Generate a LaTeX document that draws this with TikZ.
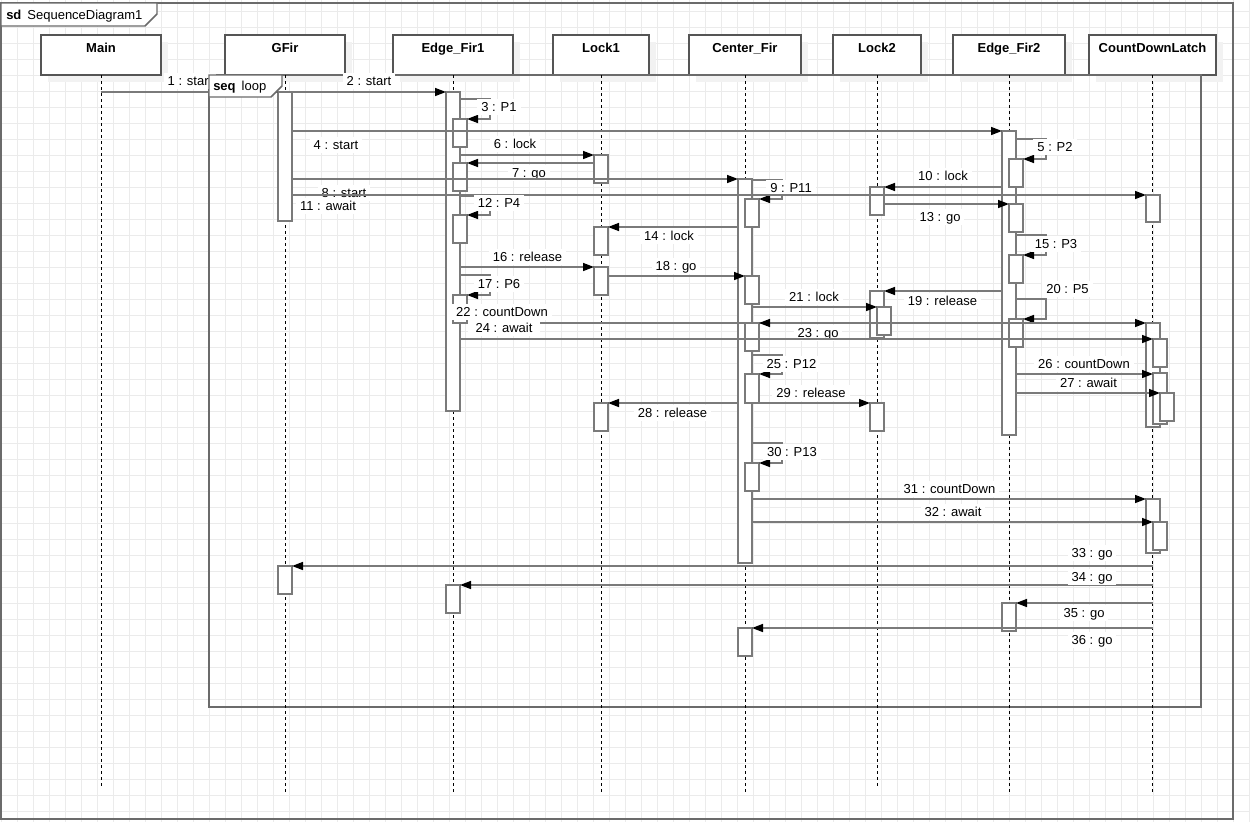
\documentclass[tikz,border=0pt]{standalone}
\usepackage{fontspec}
\setmainfont{Liberation Sans}
\usetikzlibrary{arrows.meta,shadows}
\definecolor{gridc}{HTML}{EBEBEB}
\definecolor{framec}{HTML}{6B6B6B}
\definecolor{headc}{HTML}{555555}
\definecolor{actc}{HTML}{7A7A7A}
\definecolor{msgc}{HTML}{7A7A7A}
% activation bar: name, centre x, top y, bottom y
\newcommand\actbox[4]{\node[act,minimum height={(#4-#3)*0.75pt}] (#1) at (#2,{(#3+#4)/2}) {};}
% lifeline head: name, left x, right x, title
\newcommand\headbox[4]{\node[head,minimum width={(#3-#2)*0.75pt},
  label={[headlab]north:#4}] (#1) at ({(#2+#3)/2},55) {};}
\begin{document}
\begin{tikzpicture}[x=0.75pt,y=-0.75pt,
  gridline/.style={draw=gridc,line width=0.75pt},
  framel/.style={draw=framec,line width=1.1pt},
  head/.style={rectangle,draw=headc,fill=white,line width=1.1pt,minimum height=30pt,
    inner sep=0pt,outer sep=0pt,
    general shadow={fill=black!5,shadow xshift=5.25pt,shadow yshift=-5.25pt}},
  headlab/.style={anchor=base,yshift=-12.75pt,inner sep=0pt,
    font=\fontsize{9.75pt}{11pt}\selectfont\bfseries},
  lifeline/.style={draw=black,line width=0.75pt,dash pattern=on 2.25pt off 2.25pt},
  act/.style={rectangle,draw=actc,fill=white,line width=1.1pt,minimum width=10.5pt,
    inner sep=0pt,outer sep=0pt},
  msg/.style={draw=msgc,line width=1.1pt,-{Triangle[length=8.25pt,width=6pt,black]}},
  lab/.style={fill=white,font=\fontsize{9.75pt}{11pt}\selectfont,text=black,
    inner xsep=3pt,inner ysep=1.5pt,text height=8pt,text depth=1pt},
  ftext/.style={anchor=base west,inner sep=0pt,font=\fontsize{9.75pt}{11pt}\selectfont}]
\useasboundingbox (0,0) rectangle (1250,822);
\fill[white] (0,0) rectangle (1250,822);
% background grid
\foreach \gx in {1,17,...,1249} \draw[gridline] (\gx,0) -- (\gx,822);
\foreach \gy in {11,27,...,811} \draw[gridline] (0,\gy) -- (1250,\gy);

% outer diagram frame
\draw[framel] (1,3) rectangle (1233,819);
\draw[framel,fill=white] (1,3) -- (157,3) -- (157,14) -- (145,26) -- (1,26) -- cycle;
\node[ftext] (sdtitle) at (6,19.2) {\textbf{sd}\hspace{4.5pt}SequenceDiagram1};

% lifeline heads
\headbox{h1}{41}{161}{Main}
\headbox{h2}{225}{345}{GFir}
\headbox{h3}{393}{513}{Edge\_Fir1}
\headbox{h4}{553}{649}{Lock1}
\headbox{h5}{689}{801}{Center\_Fir}
\headbox{h6}{833}{921}{Lock2}
\headbox{h7}{953}{1065}{Edge\_Fir2}
\headbox{h8}{1089}{1216}{CountDownLatch}

% combined fragment
\draw[framel] (209,75) rectangle (1201,707);

% lifelines
\draw[lifeline] (h1.south) -- (h1.south |- 0,787);
\draw[lifeline] (h2.south) -- (h2.south |- 0,793);
\draw[lifeline] (h3.south) -- (h3.south |- 0,793);
\draw[lifeline] (h4.south) -- (h4.south |- 0,793);
\draw[lifeline] (h5.south) -- (h5.south |- 0,793);
\draw[lifeline] (h6.south) -- (h6.south |- 0,787);
\draw[lifeline] (h7.south) -- (h7.south |- 0,793);
\draw[lifeline] (h8.south) -- (h8.south |- 0,793);

% activation bars
\actbox{g1}{285}{92}{221}
\actbox{g2}{285}{566}{594}
\actbox{e1}{453}{92}{411}
\actbox{e1b}{460}{119}{147}
\actbox{e1c}{460}{163}{191}
\actbox{e1d}{460}{215}{243}
\actbox{e1e}{460}{295}{323}
\actbox{e1f}{453}{585}{613}
\actbox{l1a}{601}{155}{183}
\actbox{l1b}{601}{227}{255}
\actbox{l1c}{601}{267}{295}
\actbox{l1d}{601}{403}{431}
\actbox{c1}{745}{179}{563}
\actbox{c1b}{752}{199}{227}
\actbox{c1c}{752}{276}{304}
\actbox{c1d}{752}{323}{351}
\actbox{c1e}{752}{374}{403}
\actbox{c1f}{752}{463}{491}
\actbox{c2}{745}{628}{656}
\actbox{l2a}{877}{187}{215}
\actbox{l2b}{877}{291}{338}
\actbox{l2c}{884}{307}{335}
\actbox{l2d}{877}{403}{431}
\actbox{f1}{1009}{131}{435}
\actbox{f1b}{1016}{159}{187}
\actbox{f1c}{1016}{204}{232}
\actbox{f1d}{1016}{255}{283}
\actbox{f1e}{1016}{319}{347}
\actbox{f2}{1009}{603}{631}
\actbox{d1}{1153}{195}{222}
\actbox{d2}{1153}{323}{427}
\actbox{d2b}{1160}{339}{367}
\actbox{d2c}{1160}{373}{424}
\actbox{d2d}{1167}{393}{421}
\actbox{d3}{1153}{499}{553}
\actbox{d3b}{1160}{522}{550}

% messages
\draw[msg] (h1 |- 0,92) -- (g1.west |- 0,92) node[lab] at (190,81) {1 : start};
\draw[msg] (g1.east |- 0,92) -- (e1.west |- 0,92) node[lab] at (369,81) {2 : start};
\draw[msg] (e1.east |- 0,99) -- ++(30,0) -- ++(0,20) -- (e1b.east |- 0,119) node[lab] at (499,107) {3 : P1};
\draw[msg] (g1.east |- 0,131) -- (f1.west |- 0,131) node[lab] at (336,145) {4 : start};
\draw[msg] (f1.east |- 0,139) -- ++(30,0) -- ++(0,20) -- (f1b.east |- 0,159) node[lab] at (1055,147) {5 : P2};
\draw[msg] (e1.east |- 0,155) -- (l1a.west |- 0,155) node[lab] at (515,143.5) {6 : lock};
\draw[msg] (l1a.west |- 0,163) -- (e1c.east |- 0,163) node[lab] at (529,172.5) {7 : go};
\draw[msg] (g1.east |- 0,179) -- (c1.west |- 0,179) node[lab] at (344,192.5) {8 : start};
\draw[msg] (c1.east |- 0,180) -- ++(30,0) -- ++(0,19) -- (c1b.east |- 0,199) node[lab] at (791,187.5) {9 : P11};
\draw[msg] (f1.west |- 0,187) -- (l2a.east |- 0,187) node[lab] at (943,175.5) {10 : lock};
\draw[msg] (g1.east |- 0,195) -- (d1.west |- 0,195) node[lab] at (328,205.5) {11 : await};
\draw[msg] (e1.east |- 0,196) -- ++(30,0) -- ++(0,19) -- (e1d.east |- 0,215) node[lab] at (499,203) {12 : P4};
\draw[msg] (l2a.east |- 0,204) -- (f1c.west |- 0,204) node[lab] at (940,216.5) {13 : go};
\draw[msg] (c1.west |- 0,227) -- (l1b.east |- 0,227) node[lab] at (669,235.5) {14 : lock};
\draw[msg] (f1.east |- 0,235) -- ++(30,0) -- ++(0,20) -- (f1d.east |- 0,255) node[lab] at (1056,243.5) {15 : P3};
\draw[msg] (e1.east |- 0,267) -- (l1c.west |- 0,267) node[lab] at (527.5,256.5) {16 : release};
\draw[msg] (e1.east |- 0,275) -- ++(30,0) -- ++(0,20) -- (e1e.east |- 0,295) node[lab] at (499,283.5) {17 : P6};
\draw[msg] (l1c.east |- 0,276) -- (c1c.west |- 0,276) node[lab] at (676,265.5) {18 : go};
\draw[msg] (f1.west |- 0,291) -- (l2b.east |- 0,291) node[lab] at (942.5,300.5) {19 : release};
\draw[msg] (f1.east |- 0,299) -- ++(30,0) -- ++(0,20) -- (f1e.east |- 0,319) node[lab] at (1067.5,289) {20 : P5};
\draw[msg] (c1.east |- 0,307) -- (l2c.west |- 0,307) node[lab] at (814,296.5) {21 : lock};
\draw[msg] (e1e.east |- 0,323) -- (d2.west |- 0,323) node[lab] at (502,311.5) {22 : countDown};
\draw[msg] (l2b.west |- 0,323) -- (c1d.east |- 0,323) node[lab] at (818,332.5) {23 : go};
\draw[msg] (e1.east |- 0,339) -- (d2b.west |- 0,339) node[lab,inner xsep=6pt] at (504,327.5) {24 : await};
\draw[msg] (c1.east |- 0,355) -- ++(30,0) -- ++(0,19) -- (c1e.east |- 0,374) node[lab] at (791.5,363.5) {25 : P12};
\draw[msg] (f1.east |- 0,374) -- (d2c.west |- 0,374) node[lab] at (1084,364) {26 : countDown};
\draw[msg] (f1.east |- 0,393) -- (d2d.west |- 0,393) node[lab] at (1088.5,382.5) {27 : await};
\draw[msg] (c1.west |- 0,403) -- (l1d.east |- 0,403) node[lab] at (672.5,412.5) {28 : release};
\draw[msg] (c1e.east |- 0,403) -- (l2d.west |- 0,403) node[lab] at (811,392.5) {29 : release};
\draw[msg] (c1.east |- 0,443) -- ++(30,0) -- ++(0,20) -- (c1f.east |- 0,463) node[lab] at (792,451.5) {30 : P13};
\draw[msg] (c1.east |- 0,499) -- (d3.west |- 0,499) node[lab] at (949.5,488.5) {31 : countDown};
\draw[msg] (c1.east |- 0,522) -- (d3b.west |- 0,522) node[lab] at (953,511.5) {32 : await};
\draw[msg] (h8 |- 0,566) -- (g2.east |- 0,566) node[lab] at (1092,552.5) {33 : go};
\draw[msg] (h8 |- 0,585) -- (e1f.east |- 0,585) node[lab] at (1092,577) {34 : go};
\draw[msg] (h8 |- 0,603) -- (f2.east |- 0,603) node[lab] at (1084,612.5) {35 : go};
\draw[msg] (h8 |- 0,628) -- (c2.east |- 0,628) node[lab] at (1092,640) {36 : go};

% fragment label, drawn last
\draw[framel,fill=white] (209,75) -- (282,75) -- (282,86) -- (271,97) -- (209,97) -- cycle;
\node[ftext] (looptitle) at (213,90.5) {\textbf{seq}\hspace{4.5pt}loop};
\end{tikzpicture}
\end{document}
